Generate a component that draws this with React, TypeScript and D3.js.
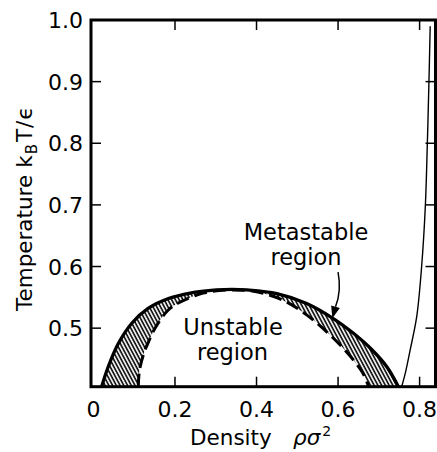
import React from 'react';
import * as d3 from 'd3';

const xTicks = [0, 0.2, 0.4, 0.6, 0.8];
const yTicks = [0.5, 0.6, 0.7, 0.8, 0.9, 1.0];

// Liquid-gas coexistence curve (binodal): [density, temperature]
const coexistence: [number, number][] = [
  [0.02, 0.405],
  [0.036, 0.437],
  [0.061, 0.475],
  [0.094, 0.508],
  [0.134, 0.532],
  [0.184, 0.548],
  [0.237, 0.557],
  [0.302, 0.562],
  [0.34, 0.563],
  [0.376, 0.562],
  [0.45, 0.556],
  [0.523, 0.54],
  [0.592, 0.514],
  [0.637, 0.492],
  [0.683, 0.465],
  [0.72, 0.437],
  [0.748, 0.405],
];

// Spinodal (dashed): [density, temperature]
const spinodal: [number, number][] = [
  [0.11, 0.405],
  [0.113, 0.432],
  [0.125, 0.462],
  [0.134, 0.476],
  [0.151, 0.5],
  [0.183, 0.529],
  [0.212, 0.542],
  [0.269, 0.557],
  [0.335, 0.562],
  [0.4, 0.559],
  [0.466, 0.545],
  [0.522, 0.522],
  [0.572, 0.494],
  [0.62, 0.462],
  [0.66, 0.428],
  [0.675, 0.405],
];

// Freezing line (thin solid): [density, temperature]
const freezing: [number, number][] = [
  [0.756, 0.405],
  [0.766, 0.43],
  [0.777, 0.465],
  [0.793, 0.519],
  [0.805, 0.6],
  [0.814, 0.697],
  [0.819, 0.8],
  [0.823, 0.902],
  [0.826, 0.99],
];

const FONT = "'DejaVu Sans', 'Liberation Sans', Arial, sans-serif";

export default function App() {
  const W = 437;
  const H = 452;
  const left = 91, right = 435.5, top = 20, bottom = 386.7;
  const x = d3.scaleLinear().domain([-0.006, 0.839]).range([left, right]);
  const y = d3.scaleLinear().domain([0.405, 1.0]).range([bottom, top]);

  const line = d3
    .line<[number, number]>()
    .x((d) => x(d[0]))
    .y((d) => y(d[1]))
    .curve(d3.curveCatmullRom.alpha(0.5));

  const binPath = line(coexistence) || '';
  const spinPath = line(spinodal) || '';
  const spinRev = (line(spinodal.slice().reverse()) || '').replace(/^M/, 'L');
  const regionPath = binPath + spinRev + 'Z';
  const freezePath = line(freezing) || '';

  const tickLen = 10;

  // arrow annotation (data coordinates)
  const a0: [number, number] = [x(0.6), y(0.591)];
  const a1: [number, number] = [x(0.604), y(0.56)];
  const tip: [number, number] = [x(0.586), y(0.516)];
  const dirx = tip[0] - a1[0], diry = tip[1] - a1[1];
  const len = Math.hypot(dirx, diry);
  const ux = dirx / len, uy = diry / len;
  const headL = 12, headW = 4.5;
  const base: [number, number] = [tip[0] - ux * headL, tip[1] - uy * headL];
  const head = [
    [tip[0], tip[1]],
    [base[0] - uy * headW, base[1] + ux * headW],
    [base[0] + uy * headW, base[1] - ux * headW],
  ]
    .map((p) => p.join(','))
    .join(' ');

  return (
    <svg
      width={W}
      height={H}
      style={{ position: 'absolute', left: 0, top: 0, background: '#fff' }}
      fontFamily={FONT}
    >
      <defs>
        <clipPath id="plotclip">
          <rect x={left} y={top} width={right - left} height={bottom - top} />
        </clipPath>
        <pattern
          id="hatch"
          patternUnits="userSpaceOnUse"
          width={3.3}
          height={10}
          patternTransform="rotate(-28)"
        >
          <line x1={1} y1={0} x2={1} y2={10} stroke="#000" strokeWidth={1.6} />
        </pattern>
      </defs>
      <rect x={0} y={0} width={W} height={H} fill="#fff" />

      <g clipPath="url(#plotclip)">
        <path d={regionPath} fill="url(#hatch)" stroke="none" />
        <path d={spinPath} fill="none" stroke="#000" strokeWidth={3} strokeDasharray="13 6" />
        <path d={binPath} fill="none" stroke="#000" strokeWidth={3.3} />
        <path d={freezePath} fill="none" stroke="#000" strokeWidth={1.4} />
      </g>

      {/* frame */}
      <rect
        x={left}
        y={top}
        width={right - left}
        height={bottom - top}
        fill="none"
        stroke="#000"
        strokeWidth={3}
      />

      {/* x ticks */}
      {xTicks.filter((t) => t > 0).map((t) => (
        <g key={'xt' + t}>
          <line x1={x(t)} x2={x(t)} y1={bottom} y2={bottom - tickLen} stroke="#000" strokeWidth={1.5} />
          <line x1={x(t)} x2={x(t)} y1={top} y2={top + tickLen} stroke="#000" strokeWidth={1.5} />
        </g>
      ))}
      {xTicks.map((t) => (
        <text key={'xl' + t} x={x(t)} y={417} textAnchor="middle" fontSize={22}>
          {t === 0 ? '0' : t.toFixed(1)}
        </text>
      ))}

      {/* y ticks */}
      {yTicks.filter((t) => t < 1).map((t) => (
        <g key={'yt' + t}>
          <line x1={left} x2={left + tickLen} y1={y(t)} y2={y(t)} stroke="#000" strokeWidth={1.5} />
          <line x1={right} x2={right - tickLen} y1={y(t)} y2={y(t)} stroke="#000" strokeWidth={1.5} />
        </g>
      ))}
      {yTicks.map((t) => (
        <text key={'yl' + t} x={83} y={y(t) + 8} textAnchor="end" fontSize={22}>
          {t.toFixed(1)}
        </text>
      ))}

      {/* axis titles */}
      <text x={190} y={445} fontSize={21.5}>
        Density
        <tspan x={293} fontStyle="italic">ρσ</tspan>
        <tspan fontSize={14} dx={2} dy={-9}>2</tspan>
      </text>
      <text transform="translate(32,311) rotate(-90)" fontSize={21.5}>
        Temperature
        <tspan dx={7}>k</tspan>
        <tspan fontSize={15} dx={1} dy={5}>B</tspan>
        <tspan dx={2} dy={-5}>T</tspan>
        <tspan dx={1}>/</tspan>
        <tspan dx={1}>ϵ</tspan>
      </text>

      {/* annotations */}
      <text x={306} y={240} textAnchor="middle" fontSize={22.5}>Metastable</text>
      <text x={306} y={265} textAnchor="middle" fontSize={22.5}>region</text>
      <text x={233} y={335} textAnchor="middle" fontSize={22.5}>Unstable</text>
      <text x={232.5} y={360} textAnchor="middle" fontSize={22.5}>region</text>

      <path
        d={`M${a0[0]},${a0[1]} Q${a1[0] + 2},${a1[1]} ${base[0]},${base[1]}`}
        fill="none"
        stroke="#000"
        strokeWidth={1.5}
      />
      <polygon points={head} fill="#000" />
    </svg>
  );
}
